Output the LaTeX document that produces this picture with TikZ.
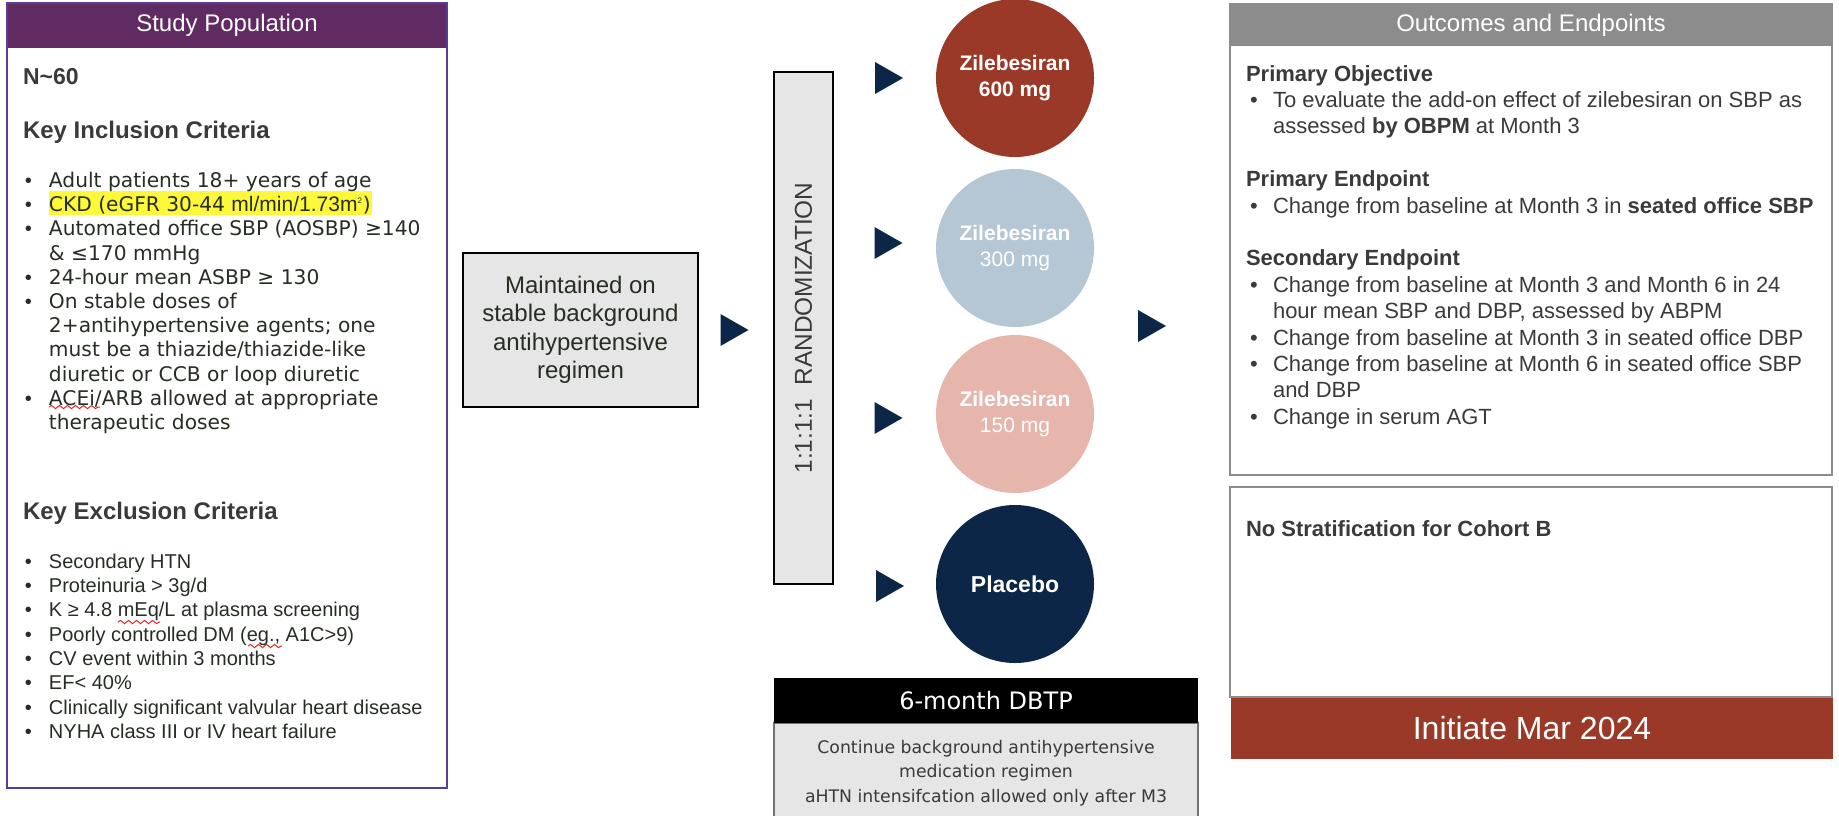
\documentclass[tikz,border=0pt]{standalone}
\usepackage{fontspec}
\setmainfont{Liberation Sans}
\newfontfamily\verd{DejaVu Sans}
\usetikzlibrary{decorations.pathmorphing}

\definecolor{popframe}{RGB}{88,60,150}
\definecolor{pophead}{RGB}{96,42,98}
\definecolor{navy}{RGB}{12,38,72}
\definecolor{brick}{RGB}{155,57,40}
\definecolor{steel}{RGB}{181,199,212}
\definecolor{blush}{RGB}{230,181,172}
\definecolor{panelgray}{RGB}{230,230,230}
\definecolor{framegray}{RGB}{140,140,140}
\definecolor{inkdark}{RGB}{38,46,36}
\definecolor{inkgray}{RGB}{58,58,58}
\definecolor{hilite}{RGB}{254,248,58}
\definecolor{spellred}{RGB}{222,40,40}

\newcommand{\lbul}{\textbullet}
% right-pointing navy wedge centred on a named coordinate
\newcommand{\navtri}[1]{\fill[navy] (#1) ++(-14,-16) -- ++(28,16) -- ++(-28,16) -- cycle;}

\begin{document}
\begin{tikzpicture}[x=0.5pt, y=-0.5pt,
  every node/.style={inner sep=0pt, outer sep=0pt},
  graybox/.style={draw=black, line width=0.8pt, fill=panelgray},
  dose/.style={circle, minimum size=79pt, text=white, align=center,
    font=\fontsize{10.5}{13}\selectfont},
  panel/.style={draw=framegray, line width=1.2pt, anchor=north west, minimum width=301pt},
  squiggle/.style={draw=spellred, line width=0.5pt, decorate,
    decoration={snake, amplitude=0.8pt, segment length=4pt}}]

\useasboundingbox (0,0) rectangle (1839,815);

% ---------------- Study population ----------------
\node[fill=pophead, text=white, anchor=north west, minimum width=220pt, minimum height=22.5pt,
  font=\fontsize{12}{14}\selectfont] (pophd) at (7,3) {Study Population};
\node[draw=popframe, line width=1pt, anchor=north west, minimum width=220pt,
  minimum height=392.5pt] (pop) at (7,3) {};

\node[anchor=base west, text=inkgray, font=\bfseries\fontsize{11.5}{13}\selectfont] (n60)
  at (23,84.5) {N\textasciitilde60};
\node[anchor=base west, text=inkgray, font=\bfseries\fontsize{12}{14}\selectfont] (inclhd)
  at (23,138) {Key Inclusion Criteria};

\fill[hilite] (49,191) rectangle (372,215);
\node[anchor=base west, text=inkdark, font=\verd\fontsize{10.1}{12.1}\selectfont] (incl) at (25,187.5) {%
\begin{tabular}[t]{@{}p{12pt}@{}l@{}}
{\rmfamily\lbul}&Adult patients 18+ years of age\\
{\rmfamily\lbul}&CKD (eGFR 30-44 {\rmfamily\fontsize{10.5}{12}\selectfont ml/min/1.73m\textsuperscript{\fontsize{4}{4}\selectfont 2}})\\
{\rmfamily\lbul}&Automated office SBP (AOSBP) ≥140\\
&\& ≤170 mmHg\\
{\rmfamily\lbul}&24-hour mean ASBP ≥ 130\\
{\rmfamily\lbul}&On stable doses of\\
&2+antihypertensive agents; one\\
&must be a thiazide/thiazide-like\\
&diuretic or CCB or loop diuretic\\
{\rmfamily\lbul}&ACEi/ARB allowed at appropriate\\
&therapeutic doses
\end{tabular}};

\node[anchor=base west, text=inkgray, font=\bfseries\fontsize{12}{14}\selectfont] (exclhd)
  at (23,519) {Key Exclusion Criteria};
\node[anchor=base west, text=inkdark, font=\fontsize{10}{12.15}\selectfont] (excl) at (25,568.3) {%
\begin{tabular}[t]{@{}p{12pt}@{}l@{}}
\lbul&Secondary HTN\\
\lbul&Proteinuria > 3g/d\\
\lbul&K ≥ 4.8 mEq/L at plasma screening\\
\lbul&Poorly controlled DM (eg., A1C>9)\\
\lbul&CV event within 3 months\\
\lbul&EF< 40\%\\
\lbul&Clinically significant valvular heart disease\\
\lbul&NYHA class III or IV heart failure
\end{tabular}};

% spell-check underlines
\draw[squiggle] (49,407) -- (100,407);
\draw[squiggle] (118,622) -- (160,622);
\draw[squiggle] (248,646) -- (282,646);

% ---------------- Background regimen and randomisation ----------------
\node[graybox, minimum width=117.5pt, minimum height=77pt, align=center, text=inkdark,
  font=\fontsize{12}{14.25}\selectfont] (maint) at (580.5,330)
  {Maintained on\\stable background\\antihypertensive\\regimen};

\node[graybox, minimum width=29.5pt, minimum height=256pt] (rand) at (803.5,328) {};
\node[rotate=90, text=inkgray, font=\fontsize{12.2}{14}\selectfont] (randtxt) at (rand.center)
  {1:1:1:1\ \ RANDOMIZATION};

% ---------------- Treatment arms ----------------
\node[dose, fill=brick] (c600) at (1015,78) {\bfseries Zilebesiran\\\bfseries 600 mg};
\node[dose, fill=steel] (c300) at (1015,248) {\bfseries Zilebesiran\\300 mg};
\node[dose, fill=blush] (c150) at (1015,414) {\bfseries Zilebesiran\\150 mg};
\node[dose, fill=navy, font=\bfseries\fontsize{11.5}{13}\selectfont] (cpbo) at (1015,584) {Placebo};

\coordinate (tmaint) at (734.5,330);
\coordinate (t600) at (889,78);
\coordinate (t300) at (888.5,243);
\coordinate (t150) at (888.5,418);
\coordinate (tpbo) at (890,586);
\coordinate (tout) at (1152,326);
\navtri{tmaint}
\navtri{t600}
\navtri{t300}
\navtri{t150}
\navtri{tpbo}
\navtri{tout}

% ---------------- Double-blind treatment period ----------------
\node[draw=black!55, line width=0.8pt, fill=panelgray, anchor=north west, minimum width=212pt,
  minimum height=55pt] (dbtpbody) at (774,723) {};
\node[fill=black, text=white, anchor=north west, minimum width=212pt, minimum height=22.5pt,
  font=\verd\fontsize{12}{14}\selectfont] (dbtphd) at (774,678) {6-month DBTP};
\node[align=center, text=inkgray, font=\verd\fontsize{8.65}{12.25}\selectfont] (dbtptxt) at (986,773)
  {Continue background antihypertensive\\medication regimen\\aHTN intensifcation allowed only after M3};

% ---------------- Outcomes ----------------
\node[fill=framegray, text=white, anchor=north west, minimum width=301pt, minimum height=21pt,
  font=\fontsize{12}{14}\selectfont] (outhd) at (1230,4) {Outcomes and Endpoints};
\node[panel, minimum height=235.5pt] (outc) at (1230,4) {};
\node[anchor=base west, text=inkgray, font=\fontsize{11}{13.2}\selectfont] (outctxt) at (1246,81) {%
\begin{tabular}[t]{@{\hspace{2pt}}p{11.5pt}@{}l@{}}
\multicolumn{2}{@{}l@{}}{\bfseries Primary Objective}\\
\lbul&To evaluate the add-on effect of zilebesiran on SBP as\\
&assessed \textbf{by OBPM} at Month 3\\
&\\
\multicolumn{2}{@{}l@{}}{\bfseries Primary Endpoint}\\
\lbul&Change from baseline at Month 3 in \textbf{seated office SBP}\\
&\\
\multicolumn{2}{@{}l@{}}{\bfseries Secondary Endpoint}\\
\lbul&Change from baseline at Month 3 and Month 6 in 24\\
&hour mean SBP and DBP, assessed by ABPM\\
\lbul&Change from baseline at Month 3 in seated office DBP\\
\lbul&Change from baseline at Month 6 in seated office SBP\\
&and DBP\\
\lbul&Change in serum AGT
\end{tabular}};

\node[panel, minimum height=105pt] (strat) at (1230,487) {};
\node[anchor=base west, text=inkgray, font=\bfseries\fontsize{11}{13}\selectfont] (strattxt)
  at (1246,536) {No Stratification for Cohort B};

\node[fill=brick, text=white, anchor=north west, minimum width=301pt, minimum height=30.5pt,
  font=\fontsize{16}{18}\selectfont] (init) at (1231,698) {Initiate Mar 2024};

\end{tikzpicture}
\end{document}
